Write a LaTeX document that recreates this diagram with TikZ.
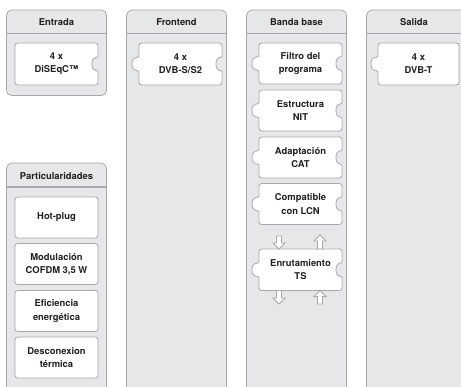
\documentclass[tikz,border=0pt]{standalone}
\usepackage{fontspec}
\setmainfont{TeX Gyre Heros}
\begin{document}
\definecolor{panelfill}{HTML}{E6E7E8}
\definecolor{panelline}{HTML}{A7A9AC}
\definecolor{inkdark}{HTML}{231F20}
\tikzset{
  panel/.style={draw=panelline, fill=panelfill, line width=0.8pt},
  sepline/.style={draw=panelline, line width=1.4pt},
  piece/.style={draw=panelline, fill=white, line width=0.8pt},
  lbl/.style={text=inkdark, font=\fontsize{9.4}{13.2}\selectfont\bfseries, align=center, inner sep=0pt},
  hdr/.style={text=inkdark, font=\fontsize{9.4}{12}\selectfont\bfseries, inner sep=0pt},
  hollow/.style={draw=panelline, fill=white, line width=0.8pt, line join=miter}
}
% #1 name, #2 left x, #3 top y, #4 right x, #5 bottom y,
% #6 tab on the left (1/0), #7 notch on the right (1/0), #8 text
\newcommand\piecebox[8]{%
  \pgfmathsetmacro\ymid{(#3+#5)/2}%
  \ifnum#6=1
    \def\lside{-- (#2,\ymid+8) .. controls (#2,\ymid+5) and (#2-7,\ymid+9) .. (#2-7,\ymid) .. controls (#2-7,\ymid-9) and (#2,\ymid-5) .. (#2,\ymid-8)}%
  \else\def\lside{}\fi
  \ifnum#7=1
    \def\rside{-- (#4,\ymid-8) .. controls (#4,\ymid-5) and (#4-6,\ymid-9) .. (#4-6,\ymid) .. controls (#4-6,\ymid+9) and (#4,\ymid+5) .. (#4,\ymid+8)}%
  \else\def\rside{}\fi
  \draw[piece] (#2+6,#3) -- (#4-6,#3) .. controls (#4,#3) .. (#4,#3+6) \rside
    -- (#4,#5-6) .. controls (#4,#5) .. (#4-6,#5) -- (#2+6,#5)
    .. controls (#2,#5) .. (#2,#5-6) \lside -- (#2,#3+6) .. controls (#2,#3) .. (#2+6,#3) -- cycle;
  \node[lbl] (#1) at ({(#2+#4)/2},\ymid) {#8};
}
% hollow block arrow: #1 centre x, #2 tail y, #3 tip y
\newcommand\blockarrow[3]{%
  \pgfmathsetmacro\dir{(#3>#2)?1:-1}%
  \draw[hollow] (#1-2.5,#2) -- (#1-2.5,#3-6*\dir) -- (#1-6,#3-6*\dir) -- (#1,#3)
    -- (#1+6,#3-6*\dir) -- (#1+2.5,#3-6*\dir) -- (#1+2.5,#2) -- cycle;
}
\begin{tikzpicture}[x=1pt,y=-1pt]
\useasboundingbox (0,0) rectangle (461,387);
\clip (0,0) rectangle (461,387);

% column panels
\draw[panel, rounded corners=5pt] (6.5,10) rectangle (106.5,95.5);
\draw[panel, rounded corners=6pt] (6.5,400) |- (106.5,163) -- (106.5,400);
\draw[panel, rounded corners=6pt] (126.5,400) |- (226.5,10) -- (226.5,400);
\draw[panel, rounded corners=6pt] (246.5,400) |- (346.5,10) -- (346.5,400);
\draw[panel, rounded corners=6pt] (366.5,400) |- (470,10) -- (470,400);

\draw[sepline] (6.5,33.5) -- (106.5,33.5);
\draw[sepline] (6.5,187) -- (106.5,187);
\draw[sepline] (126.5,33.5) -- (226.5,33.5);
\draw[sepline] (246.5,33.5) -- (346.5,33.5);
\draw[sepline] (366.5,33.5) -- (461,33.5);

\node[hdr] (hEntrada) at (56.5,22.5) {Entrada};
\node[hdr] (hFrontend) at (176.5,22.5) {Frontend};
\node[hdr] (hBanda) at (296.5,22.5) {Banda base};
\node[hdr] (hSalida) at (414,22.5) {Salida};
\node[hdr] (hPart) at (56.5,176) {Particularidades};

% puzzle pieces
\piecebox{diseqc}{15}{43}{98}{85}{0}{1}{4 x\\DiSEqC™}
\piecebox{dvbs}{139}{43}{222}{85}{1}{1}{4 x\\DVB-S/S2}
\piecebox{filtro}{259}{43}{342}{84}{1}{1}{Filtro del\\programa}
\piecebox{nit}{259}{90}{342}{131}{1}{1}{Estructura\\NIT}
\piecebox{cat}{259}{137}{342}{178}{1}{1}{Adaptación\\CAT}
\piecebox{lcn}{259}{183.5}{342}{224.5}{1}{1}{Compatible\\con LCN}
\piecebox{ts}{259}{249}{342}{290.5}{1}{1}{Enrutamiento\\TS}
\piecebox{dvbt}{378}{43}{459}{85}{1}{0}{4 x\\DVB-T}

% feature boxes
\piecebox{hotplug}{15}{197}{98}{238}{0}{0}{Hot-plug}
\piecebox{cofdm}{15}{243.5}{98}{284.5}{0}{0}{Modulación\\COFDM 3,5 W}
\piecebox{eff}{15}{290.5}{98}{331.5}{0}{0}{Eficiencia\\energética}
\piecebox{therm}{15}{337}{98}{378}{0}{0}{Desconexion\\térmica}

% stream arrows around the TS routing piece
\blockarrow{279}{236}{249}
\blockarrow{320}{249}{235}
\blockarrow{279}{290.5}{304}
\blockarrow{320}{304}{290.5}
\end{tikzpicture}
\end{document}
